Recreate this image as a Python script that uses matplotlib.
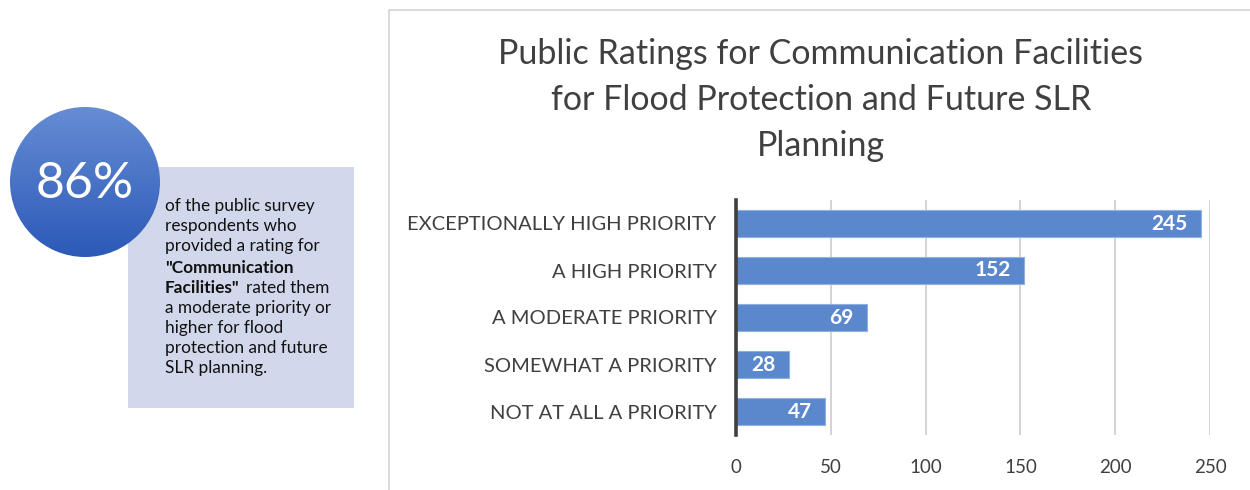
import matplotlib
matplotlib.use("Agg")
import matplotlib.pyplot as plt
import numpy as np
from matplotlib.patches import Circle, Rectangle

plt.rcParams['font.family'] = ['Lato', 'DejaVu Sans']

categories = ["EXCEPTIONALLY HIGH PRIORITY", "A HIGH PRIORITY", "A MODERATE PRIORITY",
              "SOMEWHAT A PRIORITY", "NOT AT ALL A PRIORITY"]
counts = [245, 152, 69, 28, 47]
x_ticks = [0, 50, 100, 150, 200, 250]
title = "Public Ratings for Communication Facilities\nfor Flood Protection and Future SLR\nPlanning"
headline = "86%"

W, H = 1250, 490
fig = plt.figure(figsize=(W / 100, H / 100), dpi=100)
fig.patch.set_facecolor("white")

# Overlay axes in pixel coordinates for the callout and panel frame
ov = fig.add_axes([0, 0, 1, 1])
ov.set_xlim(0, W)
ov.set_ylim(H, 0)
ov.axis("off")

# Chart panel frame
ov.plot([388.5, 388.5, W], [H, 10.5, 10.5], color="#d4d4d4", lw=1.2)

# Callout box
ov.add_patch(Rectangle((128, 167), 226, 241, facecolor="#d2d8eb", edgecolor="none", zorder=1))

# Gradient circle
cx, cy, r = 85, 182, 75
grad = np.linspace(0, 1, 256)[:, None]
top = np.array([0.40, 0.55, 0.83])
bot = np.array([0.17, 0.35, 0.72])
img = top[None, None, :] * (1 - grad[..., None]) + bot[None, None, :] * grad[..., None]
img = np.repeat(img, 2, axis=1)
im = ov.imshow(img, extent=(cx - r, cx + r, cy + r, cy - r), zorder=2, aspect="auto")
clip = Circle((cx, cy), r, transform=ov.transData, facecolor="none", edgecolor="none")
ov.add_patch(clip)
im.set_clip_path(clip)
ov.text(cx, cy + 2, headline, color="white", fontsize=36, ha="center", va="center", zorder=3)

# Callout text
fs = 12.4
x0 = 165
lines_y = [206, 226, 246, 268, 288, 308, 328, 348, 368]
plain = ["of the public survey", "respondents who", "provided a rating for"]
for y, s in zip(lines_y[:3], plain):
    ov.text(x0, y, s, fontsize=fs, color="#111111", va="center", zorder=3)
ov.text(x0, lines_y[3], "\"Communication", fontsize=fs, fontweight="bold", color="#111111", va="center", zorder=3)
b = ov.text(x0, lines_y[4], "Facilities\"", fontsize=fs, fontweight="bold", color="#111111", va="center", zorder=3)
fig.canvas.draw()
bb = b.get_window_extent(renderer=fig.canvas.get_renderer())
ov.text(bb.x1 + 6, lines_y[4], "rated them", fontsize=fs, color="#111111", va="center", zorder=3)
rest = ["a moderate priority or", "higher for flood", "protection and future", "SLR planning."]
for y, s in zip(lines_y[5:], rest):
    ov.text(x0, y, s, fontsize=fs, color="#111111", va="center", zorder=3)

# Title
ov.text(821, 100, title, fontsize=24.5, color="#404040", ha="center", va="center",
        linespacing=1.52)

# Bar chart
ax = fig.add_axes([736 / W, 1 - 435 / H, (1210 - 736) / W, (435 - 200) / H])
y = np.arange(len(categories))
bars = ax.barh(y, counts, height=0.58, color="#5b87cc", edgecolor="#8fb0e0", linewidth=0.8, zorder=3)
ax.set_ylim(len(categories) - 0.5, -0.5)
ax.set_xlim(0, 250)
ax.set_xticks(x_ticks)
ax.set_yticks(y)
ax.set_yticklabels(categories, fontsize=14.5, color="#404040")
ax.tick_params(axis="both", length=0)
ax.tick_params(axis="y", pad=14)
ax.tick_params(axis="x", pad=17, labelsize=13.5, labelcolor="#404040")
ax.grid(axis="x", color="#c8c8c8", lw=1.1, zorder=0)
for s in ["top", "right", "bottom"]:
    ax.spines[s].set_visible(False)
ax.spines["left"].set_color("#404040")
ax.spines["left"].set_linewidth(2.6)
ax.spines["left"].set_zorder(4)
ax.set_facecolor("none")
for rect, v in zip(bars, counts):
    ax.text(v - 7, rect.get_y() + rect.get_height() / 2, str(v), color="white",
            fontsize=15, fontweight="bold", ha="right", va="center", zorder=5)

fig.savefig("out.png", dpi=100)
